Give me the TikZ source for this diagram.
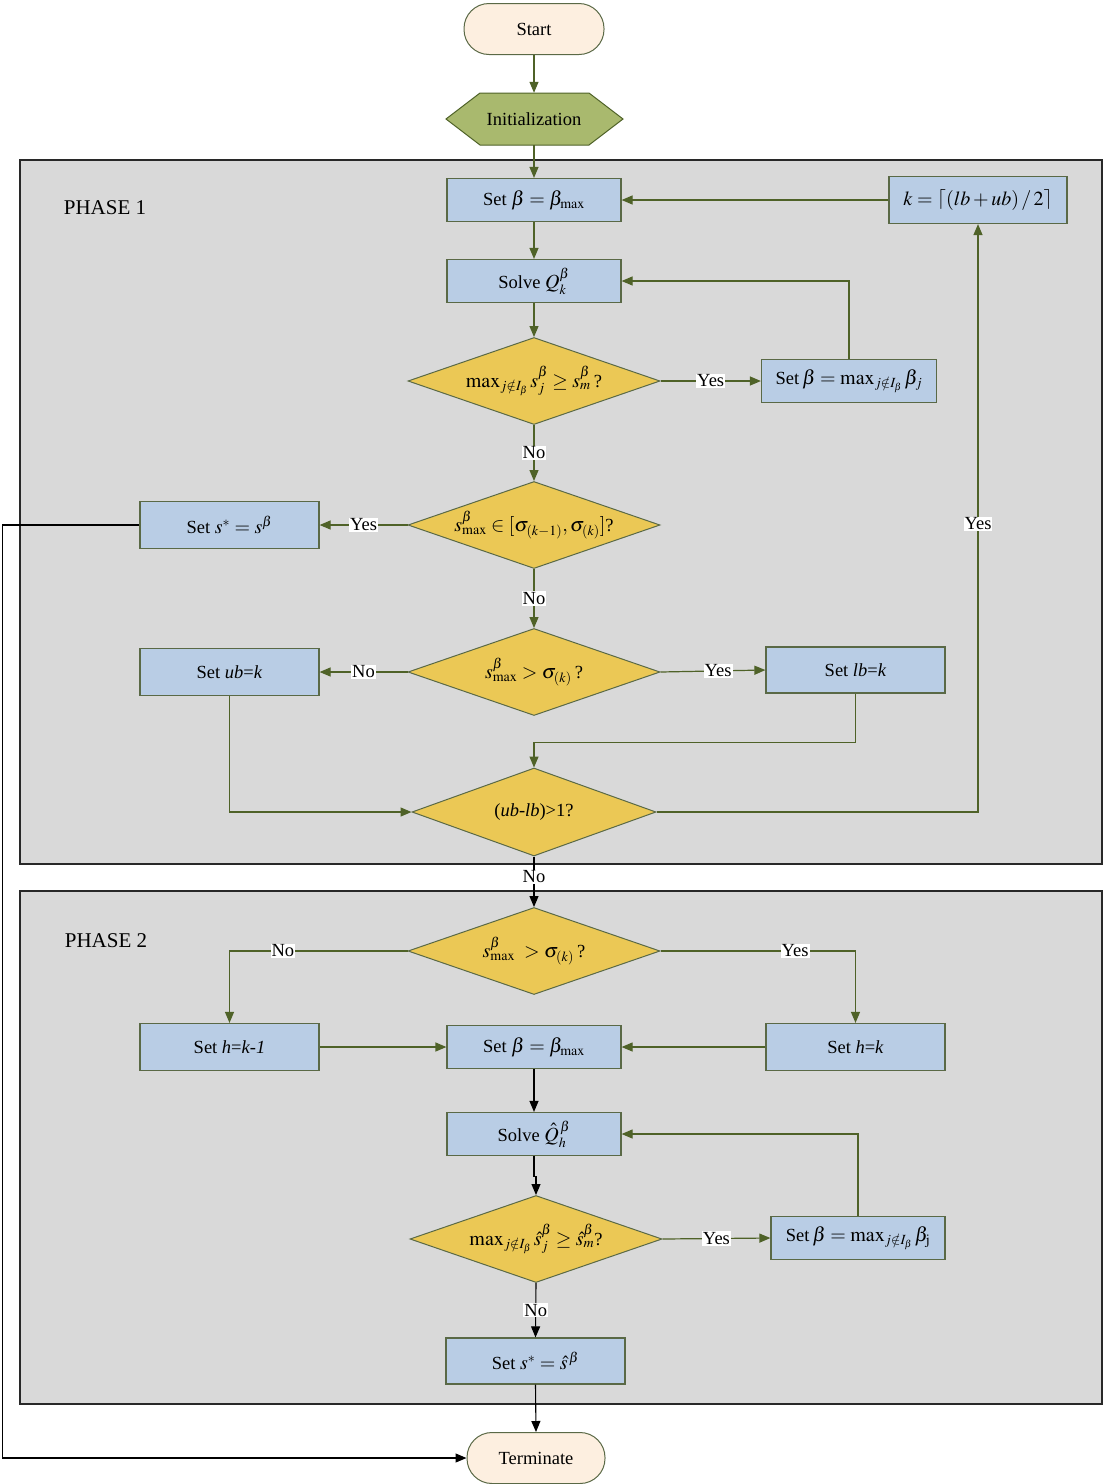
\documentclass[tikz,border=0pt]{standalone}
\usepackage{mathptmx}
\usepackage{fontspec}
\setmainfont{Liberation Serif}
\DeclareMathSizes{18.5}{20}{14}{10}
\usetikzlibrary{shapes.geometric,arrows.meta}
\definecolor{lineol}{RGB}{79,98,40}
\definecolor{boxfill}{RGB}{185,205,229}
\definecolor{boxdraw}{RGB}{90,105,70}
\definecolor{diafill}{RGB}{235,200,85}
\definecolor{initfill}{RGB}{169,185,110}
\definecolor{termfill}{RGB}{253,239,224}
\definecolor{phasefill}{RGB}{217,217,217}
\definecolor{phasedraw}{RGB}{40,40,40}
\tikzset{
  procbox/.style={rectangle, draw=boxdraw, fill=boxfill, line width=1.2pt, minimum width=174pt, minimum height=43pt, inner sep=0pt},
  decbox/.style={diamond, draw=boxdraw, fill=diafill, line width=1pt, minimum width=252pt, minimum height=87pt, inner sep=0pt, aspect=2.9},
  termbox/.style={rectangle, rounded corners=25pt, draw=boxdraw, fill=termfill, line width=1pt, minimum width=140pt, minimum height=51pt},
  phasebox/.style={rectangle, draw=phasedraw, fill=phasefill, line width=1.3pt, inner sep=0pt},
  arr/.style={draw=lineol, line width=1.2pt, -{Triangle[length=11pt,width=9pt]}},
  barr/.style={draw=black, line width=1.1pt, -{Triangle[length=11pt,width=9pt]}},
  lbl/.style={fill=white, inner sep=1pt, text=black},
  phlabel/.style={font=\fontsize{21}{25}\selectfont, anchor=center}
}
\begin{document}
\begin{tikzpicture}[x=1pt, y=-1pt, font=\fontsize{18.5}{22}\selectfont]
\useasboundingbox (0,0) rectangle (1103,1484);
% phases
\node[phasebox, minimum width=1082pt, minimum height=704pt] (p1) at (561,512) {};
\node[phasebox, minimum width=1082pt, minimum height=513pt] (p2) at (561,1147.5) {};
\node[phlabel] (p1lab) at (105,208) {PHASE 1};
\node[phlabel] (p2lab) at (106,941) {PHASE 2};
% start & init
\node[termbox] (start) at (534,29) {Start};
\draw[draw=lineol, fill=initfill, line width=1pt] (446,119) -- (480,93) -- (589,93) -- (623,119) -- (589,145) -- (480,145) -- cycle;
\node[minimum width=177pt, minimum height=52pt, inner sep=0pt] (init) at (534,119) {Initialization};
% phase 1
\node[procbox] (sb1) at (534,200) {Set $\beta=\beta_{\max}$};
\node[procbox, minimum width=178pt, minimum height=47pt] (kbox) at (978,200) {$k=\left\lceil (lb+ub)\,/\,2\right\rceil$};
\node[procbox] (solve1) at (534,281) {Solve $Q_k^{\beta}$};
\node[decbox] (d1) at (534,381) {$\max\nolimits_{j\notin I_\beta} s_j^{\beta}\ge s_m^{\beta}$\,?};
\node[procbox, minimum width=175pt] (smax1) at (849,381) {Set\,$\beta=\max\nolimits_{j\notin I_\beta}\beta_j$};
\node[decbox] (d2) at (534,525) {$s^{\beta}_{\max}\in[\sigma_{(k-1)},\sigma_{(k)}]$?};
\node[procbox, minimum width=179pt, minimum height=47pt] (ss1) at (229.5,525) {Set $s^{*}=s^{\beta}$};
\node[decbox] (d3) at (534,672) {$s^{\beta}_{\max}>\sigma_{(k)}$\,?};
\node[procbox, minimum width=179pt, minimum height=47pt] (ub) at (229.5,672) {Set \textit{ub}=\textit{k}};
\node[procbox, minimum width=179pt, minimum height=46pt] (lb) at (855.5,670) {Set \textit{lb}=\textit{k}};
\node[decbox, minimum width=244pt, minimum height=88pt] (d4) at (534,812) {(\textit{ub-lb})>1?};
% phase 2
\node[decbox] (d5) at (534,951) {$s^{\beta}_{\max}\ >\sigma_{(k)}$\,?};
\node[procbox, minimum width=179pt, minimum height=47pt] (h1) at (229.5,1047) {Set \textit{h}=\textit{k-1}};
\node[procbox] (sb2) at (534,1047) {Set $\beta=\beta_{\max}$};
\node[procbox, minimum width=179pt, minimum height=47pt] (h2) at (855.5,1047) {Set \textit{h}=\textit{k}};
\node[procbox] (solve2) at (534,1134) {Solve $\hat{Q}_h^{\,\beta}$};
\node[decbox] (d6) at (536,1239) {$\max\nolimits_{j\notin I_\beta} \hat{s}_j^{\beta}\ge\hat{s}_m^{\beta}$?};
\node[procbox, minimum width=174pt] (smax2) at (858,1238) {Set\,$\beta=\max\nolimits_{j\notin I_\beta}\beta_{\mathrm{j}}$};
\node[procbox, minimum width=179pt, minimum height=46pt] (ss2) at (535.5,1361) {Set $s^{*}=\hat{s}^{\,\beta}$};
\node[termbox, minimum width=138pt] (term) at (536,1458) {Terminate};
% connectors phase 1
\draw[arr] (start) -- (init);
\draw[arr] (init) -- (sb1);
\draw[arr] (sb1) -- (solve1);
\draw[arr] (solve1) -- (d1);
\draw[arr] (d1.east) -- node[lbl] (y1) {Yes} (smax1.west);
\draw[arr] (smax1.north) |- (solve1.east);
\draw[arr] (d1.south) -- node[lbl] (n1) {No} (d2.north);
\draw[arr] (d2.west) -- node[lbl] (y2) {Yes} (ss1.east);
\draw[arr] (d2.south) -- node[lbl] (n2) {No} (d3.north);
\draw[arr] (d3.west) -- node[lbl] (n3) {No} (ub.east);
\draw[arr] (d3.east) -- node[lbl, pos=0.55] (y3) {Yes} (lb.west);
\draw[arr] (lb.south) -- ++(0,49) -| (d4.north);
\draw[arr] (ub.south) |- (d4.west);
\draw[arr] (d4.east) -| node[lbl, pos=0.745] (y4) {Yes} (kbox.south);
\draw[arr] (kbox.west) -- (sb1.east);
\draw[barr] (d4.south) -- node[lbl, pos=0.4] (n4) {No} (d5.north);
% connectors phase 2
\draw[arr] (d5.west) -| node[lbl, pos=0.35] (n5) {No} (h1.north);
\draw[arr] (d5.east) -| node[lbl, pos=0.345] (y5) {Yes} (h2.north);
\draw[arr] (h1.east) -- (sb2.west);
\draw[arr] (h2.west) -- (sb2.east);
\draw[barr] (sb2.south) -- (solve2.north);
\draw[barr] (solve2.south) -- ++(0,20) -| (d6.north);
\draw[arr] (d6.east) -- node[lbl] (y6) {Yes} (smax2.west);
\draw[arr] (smax2.north) |- (solve2.east);
\draw[barr] (d6.south) -- node[lbl] (n6) {No} (ss2.north);
\draw[barr] (ss2.south) -- (term.north);
\draw[barr] (ss1.west) -- ++(-137,0) |- (term.west);
\end{tikzpicture}
\end{document}
